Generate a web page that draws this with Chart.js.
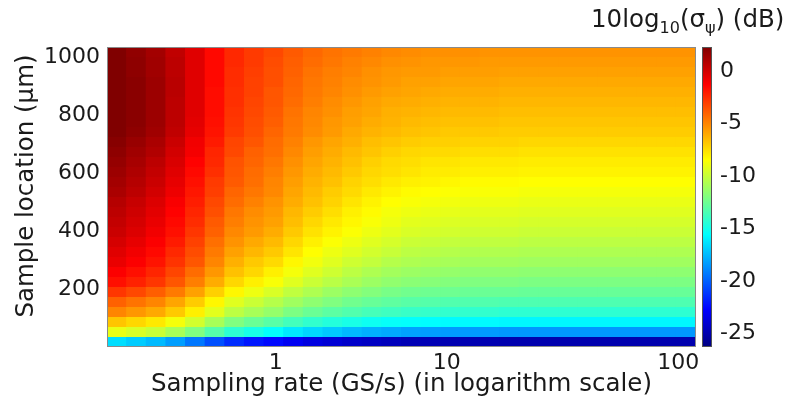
<!DOCTYPE html>
<html>
<head>
<meta charset="utf-8">
<script src="https://cdn.jsdelivr.net/npm/chart.js@4.4.1/dist/chart.umd.min.js"></script>
<style>
  html, body { margin: 0; padding: 0; background: #fff; }
  #wrap { position: relative; width: 789px; height: 415px; }
  #main { position: absolute; left: 0; top: 0; width: 789px; height: 415px; }
  #bar { position: absolute; left: 690px; top: 0; width: 99px; height: 415px; }
</style>
</head>
<body>
<div id="wrap">
  <div id="main"><canvas id="heat"></canvas></div>
  <div id="bar"><canvas id="cbar"></canvas></div>
</div>
<script>
// column positions (one cell per sampling rate, left to right)
const columns = [0.5, 1.5, 2.5, 3.5, 4.5, 5.5, 6.5, 7.5, 8.5, 9.5,
  10.5, 11.5, 12.5, 13.5, 14.5, 15.5, 16.5, 17.5, 18.5, 19.5,
  20.5, 21.5, 22.5, 23.5, 24.5, 25.5, 26.5, 27.5, 28.5, 29.5];

// sample locations in µm (row centres), top row first
const locations = [1017.75, 983.25, 948.75, 914.25, 879.75, 845.25, 810.75, 776.25, 741.75, 707.25,
  672.75, 638.25, 603.75, 569.25, 534.75, 500.25, 465.75, 431.25, 396.75, 362.25,
  327.75, 293.25, 258.75, 224.25, 189.75, 155.25, 120.75, 86.25, 51.75, 17.25];
const rowHalf = 17.25;

// 10log10(sigma_psi) in dB, one row per location (top first), one value per column
const sigmaDb = [
  [2.3, 1.8, 1.3, 0.5, -0.4, -1.5, -2.4, -2.9, -3.3, -3.8, -4.2, -4.5, -4.7, -4.9, -5.1, -5.2, -5.3, -5.3, -5.3, -5.4, -5.4, -5.4, -5.4, -5.4, -5.4, -5.4, -5.4, -5.4, -5.4, -5.4],
  [2.4, 1.9, 1.4, 0.6, -0.4, -1.5, -2.4, -2.9, -3.4, -3.9, -4.3, -4.6, -4.9, -5.1, -5.3, -5.4, -5.5, -5.5, -5.5, -5.6, -5.6, -5.6, -5.6, -5.6, -5.6, -5.6, -5.6, -5.6, -5.6, -5.6],
  [2.4, 1.9, 1.4, 0.6, -0.4, -1.5, -2.5, -3.0, -3.5, -4.0, -4.5, -4.8, -5.0, -5.3, -5.5, -5.6, -5.6, -5.7, -5.7, -5.7, -5.8, -5.8, -5.8, -5.8, -5.8, -5.8, -5.8, -5.8, -5.8, -5.8],
  [2.5, 2.0, 1.5, 0.7, -0.4, -1.5, -2.5, -3.1, -3.5, -4.1, -4.6, -4.9, -5.2, -5.4, -5.6, -5.8, -5.8, -5.9, -5.9, -5.9, -6.0, -6.0, -6.0, -6.0, -6.0, -6.0, -6.0, -6.0, -6.0, -6.0],
  [2.5, 2.0, 1.5, 0.7, -0.4, -1.6, -2.6, -3.1, -3.7, -4.2, -4.7, -5.0, -5.3, -5.6, -5.8, -5.9, -6.0, -6.1, -6.1, -6.1, -6.2, -6.2, -6.2, -6.2, -6.2, -6.2, -6.2, -6.2, -6.2, -6.2],
  [2.5, 2.0, 1.5, 0.6, -0.4, -1.6, -2.6, -3.2, -3.7, -4.3, -4.8, -5.2, -5.5, -5.8, -6.0, -6.1, -6.2, -6.3, -6.3, -6.3, -6.4, -6.4, -6.4, -6.4, -6.4, -6.4, -6.4, -6.4, -6.4, -6.4],
  [2.5, 2.0, 1.5, 0.6, -0.4, -1.6, -2.7, -3.3, -3.8, -4.5, -5.0, -5.3, -5.7, -5.9, -6.2, -6.3, -6.4, -6.5, -6.5, -6.5, -6.6, -6.6, -6.6, -6.6, -6.6, -6.6, -6.6, -6.6, -6.6, -6.6],
  [2.5, 2.0, 1.5, 0.6, -0.5, -1.7, -2.8, -3.4, -3.9, -4.6, -5.1, -5.5, -5.8, -6.1, -6.3, -6.5, -6.6, -6.7, -6.7, -6.7, -6.8, -6.8, -6.8, -6.8, -6.8, -6.8, -6.8, -6.8, -6.8, -6.8],
  [2.4, 1.9, 1.4, 0.5, -0.6, -1.8, -2.9, -3.5, -4.1, -4.7, -5.2, -5.6, -6.0, -6.3, -6.5, -6.7, -6.8, -6.9, -6.9, -6.9, -7.0, -7.0, -7.0, -7.0, -7.0, -7.0, -7.0, -7.0, -7.0, -7.0],
  [2.1, 1.6, 1.1, 0.2, -0.9, -2.0, -3.2, -3.7, -4.3, -4.9, -5.5, -5.9, -6.2, -6.6, -6.8, -7.0, -7.1, -7.1, -7.2, -7.2, -7.2, -7.3, -7.3, -7.3, -7.3, -7.3, -7.3, -7.3, -7.3, -7.3],
  [1.9, 1.4, 0.9, 0.0, -1.0, -2.3, -3.3, -4.0, -4.4, -5.1, -5.7, -6.1, -6.5, -6.8, -7.1, -7.3, -7.4, -7.4, -7.5, -7.5, -7.5, -7.6, -7.6, -7.6, -7.6, -7.6, -7.6, -7.6, -7.6, -7.6],
  [1.7, 1.2, 0.6, -0.2, -1.3, -2.4, -3.6, -4.1, -4.6, -5.3, -5.9, -6.3, -6.7, -7.1, -7.4, -7.5, -7.7, -7.7, -7.8, -7.8, -7.8, -7.9, -7.9, -7.9, -7.9, -7.9, -7.9, -7.9, -7.9, -7.9],
  [1.5, 1.0, 0.4, -0.4, -1.5, -2.6, -3.7, -4.3, -4.8, -5.5, -6.1, -6.5, -6.9, -7.3, -7.5, -7.7, -7.9, -7.9, -8.0, -8.0, -8.0, -8.1, -8.1, -8.1, -8.1, -8.1, -8.1, -8.1, -8.1, -8.1],
  [1.3, 0.8, 0.2, -0.6, -1.7, -2.9, -3.8, -4.4, -5.0, -5.7, -6.3, -6.7, -7.2, -7.5, -7.8, -8.0, -8.1, -8.2, -8.3, -8.3, -8.3, -8.4, -8.4, -8.4, -8.4, -8.4, -8.4, -8.4, -8.4, -8.4],
  [1.1, 0.6, 0.0, -0.8, -1.9, -3.0, -4.1, -4.6, -5.1, -5.9, -6.5, -7.0, -7.4, -7.8, -8.1, -8.3, -8.4, -8.5, -8.6, -8.6, -8.6, -8.7, -8.7, -8.7, -8.7, -8.7, -8.7, -8.7, -8.7, -8.7],
  [0.8, 0.3, -0.3, -1.1, -2.1, -3.3, -4.3, -4.9, -5.4, -6.1, -6.7, -7.2, -7.7, -8.1, -8.4, -8.6, -8.7, -8.8, -8.9, -8.9, -8.9, -9.0, -9.0, -9.0, -9.0, -9.0, -9.0, -9.0, -9.0, -9.0],
  [0.6, 0.1, -0.5, -1.3, -2.3, -3.5, -4.6, -5.2, -5.6, -6.4, -7.0, -7.5, -8.0, -8.3, -8.7, -8.9, -9.0, -9.1, -9.2, -9.2, -9.2, -9.3, -9.3, -9.3, -9.3, -9.3, -9.3, -9.3, -9.3, -9.3],
  [0.4, -0.1, -0.7, -1.5, -2.5, -3.8, -4.8, -5.4, -5.8, -6.6, -7.3, -7.8, -8.2, -8.6, -8.9, -9.2, -9.3, -9.4, -9.5, -9.5, -9.5, -9.6, -9.6, -9.6, -9.6, -9.6, -9.6, -9.6, -9.6, -9.6],
  [0.2, -0.3, -0.9, -1.7, -2.8, -4.0, -5.1, -5.6, -6.1, -6.9, -7.6, -8.1, -8.5, -8.9, -9.2, -9.5, -9.6, -9.7, -9.8, -9.8, -9.8, -9.9, -9.9, -9.9, -9.9, -9.9, -9.9, -9.9, -9.9, -9.9],
  [-0.1, -0.6, -1.2, -2.0, -3.1, -4.4, -5.4, -6.0, -6.5, -7.3, -8.0, -8.5, -8.9, -9.3, -9.6, -9.9, -10.0, -10.1, -10.2, -10.2, -10.2, -10.3, -10.3, -10.3, -10.3, -10.3, -10.3, -10.3, -10.3, -10.3],
  [-0.4, -0.9, -1.5, -2.4, -3.4, -4.7, -5.8, -6.4, -6.9, -7.7, -8.4, -8.9, -9.3, -9.7, -10.0, -10.3, -10.4, -10.5, -10.6, -10.6, -10.6, -10.7, -10.7, -10.7, -10.7, -10.7, -10.7, -10.7, -10.7, -10.7],
  [-0.7, -1.2, -1.8, -2.7, -3.7, -5.0, -6.2, -6.9, -7.4, -8.2, -8.8, -9.3, -9.8, -10.1, -10.5, -10.7, -10.8, -10.9, -11.0, -11.0, -11.0, -11.1, -11.1, -11.1, -11.1, -11.1, -11.1, -11.1, -11.1, -11.1],
  [-1.2, -1.7, -2.3, -3.2, -4.3, -5.5, -6.7, -7.3, -8.0, -8.7, -9.3, -9.8, -10.3, -10.7, -11.0, -11.2, -11.3, -11.4, -11.5, -11.5, -11.5, -11.6, -11.6, -11.6, -11.6, -11.6, -11.6, -11.6, -11.6, -11.6],
  [-1.7, -2.2, -2.8, -3.7, -4.8, -6.1, -7.3, -8.0, -8.6, -9.3, -9.9, -10.4, -10.8, -11.2, -11.5, -11.7, -11.8, -11.9, -12.0, -12.0, -12.0, -12.1, -12.1, -12.1, -12.1, -12.1, -12.1, -12.1, -12.1, -12.1],
  [-2.8, -3.3, -3.9, -4.7, -5.8, -7.1, -8.2, -8.9, -9.5, -10.2, -10.7, -11.2, -11.6, -11.9, -12.2, -12.4, -12.5, -12.5, -12.6, -12.6, -12.6, -12.7, -12.7, -12.7, -12.7, -12.7, -12.7, -12.7, -12.7, -12.7],
  [-4.0, -4.5, -5.0, -5.9, -7.0, -8.2, -9.3, -9.9, -10.5, -11.1, -11.6, -12.0, -12.4, -12.7, -12.9, -13.1, -13.2, -13.3, -13.3, -13.3, -13.4, -13.4, -13.4, -13.4, -13.4, -13.4, -13.4, -13.4, -13.4, -13.4],
  [-5.0, -5.5, -6.0, -6.9, -8.0, -9.2, -10.3, -10.9, -11.4, -12.1, -12.6, -13.0, -13.3, -13.6, -13.8, -14.0, -14.1, -14.2, -14.2, -14.2, -14.3, -14.3, -14.3, -14.3, -14.3, -14.3, -14.3, -14.3, -14.3, -14.3],
  [-6.8, -7.3, -7.8, -8.7, -9.7, -10.9, -12.0, -12.6, -13.1, -13.7, -14.2, -14.6, -14.9, -15.2, -15.4, -15.5, -15.6, -15.7, -15.7, -15.7, -15.8, -15.8, -15.8, -15.8, -15.8, -15.8, -15.8, -15.8, -15.8, -15.8],
  [-9.0, -9.5, -10.0, -10.9, -12.0, -13.2, -14.3, -14.9, -15.5, -16.2, -16.7, -17.1, -17.5, -17.8, -18.0, -18.2, -18.3, -18.4, -18.4, -18.4, -18.5, -18.5, -18.5, -18.5, -18.5, -18.5, -18.5, -18.5, -18.5, -18.5],
  [-16.5, -17.0, -17.5, -18.3, -19.4, -20.5, -21.5, -22.1, -22.5, -23.1, -23.6, -23.9, -24.2, -24.4, -24.6, -24.8, -24.8, -24.9, -24.9, -24.9, -25.0, -25.0, -25.0, -25.0, -25.0, -25.0, -25.0, -25.0, -25.0, -25.0]
];

// axis ticks
const xTickPos = [8.6, 17.3, 29.1];
const xTickLabels = ['1', '10', '100'];
const yTicks = [200, 400, 600, 800, 1000];
const cbTicks = [-25, -20, -15, -10, -5, 0];
const cMin = -26.3;
const cMax = 2.3;

const FONT = 'DejaVu Sans';
const INK = '#1a1a1a';

// matlab jet colormap
function jetAt(t) {
  t = Math.min(1, Math.max(0, t));
  const ch = (c) => Math.round(255 * Math.min(1, Math.max(0, 1.5 - Math.abs(4 * t - c))));
  return `rgb(${ch(3)},${ch(2)},${ch(1)})`;
}
const jet = (v) => jetAt((v - cMin) / (cMax - cMin));

const datasets = sigmaDb.map((row, r) => ({
  data: row.map((v, j) => ({
    x: columns[j],
    y: [locations[r] - rowHalf, locations[r] + rowHalf],
  })),
  backgroundColor: row.map(jet),
  borderWidth: 0,
  grouped: false,
  barPercentage: 1.05,
  categoryPercentage: 1,
}));

const frameAndTitle = {
  id: 'frameAndTitle',
  afterDraw(chart) {
    const { ctx, chartArea: a } = chart;
    ctx.save();
    ctx.strokeStyle = '#8a8a8a';
    ctx.lineWidth = 1;
    ctx.strokeRect(a.left + 0.5, a.top + 0.5, a.width - 1, a.height - 1);

    ctx.fillStyle = INK;

    // y axis title
    ctx.save();
    ctx.translate(27, 186);
    ctx.rotate(-Math.PI / 2);
    ctx.textAlign = 'center';
    ctx.textBaseline = 'middle';
    ctx.font = `24.5px "${FONT}"`;
    ctx.fillText('Sample location (μm)', 0, 0);
    ctx.restore();

    // colour bar caption: 10log10(sigma_psi) (dB)
    ctx.textBaseline = 'alphabetic';
    ctx.textAlign = 'left';
    const big = `24.5px "${FONT}"`;
    const small = `16px "${FONT}"`;
    let x = 591;
    const y = 27;
    const parts = [
      ['10log', big, 0], ['10', small, 6], ['(σ', big, 0], ['ψ', small, 6], [') (dB)', big, 0],
    ];
    parts.forEach(([txt, font, dy]) => {
      ctx.font = font;
      ctx.fillText(txt, x, y + dy);
      x += ctx.measureText(txt).width;
    });
    ctx.restore();
  },
};

new Chart(document.getElementById('heat'), {
  type: 'bar',
  data: { datasets },
  options: {
    responsive: true,
    maintainAspectRatio: false,
    animation: false,
    layout: { padding: { left: 0, top: 47, right: 93, bottom: 0 } },
    plugins: { legend: { display: false }, tooltip: { enabled: false } },
    scales: {
      x: {
        type: 'linear',
        min: 0,
        max: 30,
        offset: false,
        grid: { display: false, drawTicks: false },
        border: { display: false },
        afterBuildTicks: (s) => { s.ticks = xTickPos.map((v) => ({ value: v })); },
        afterFit: (s) => { s.height = 68; },
        ticks: {
          autoSkip: false,
          maxRotation: 0,
          padding: 3,
          color: INK,
          font: { family: FONT, size: 22 },
          callback: (v, i) => xTickLabels[i],
        },
        title: {
          display: true,
          text: 'Sampling rate (GS/s) (in logarithm scale)',
          color: INK,
          font: { family: FONT, size: 24.5 },
          padding: { top: 0, bottom: 16 },
        },
      },
      y: {
        type: 'linear',
        min: 0,
        max: 1035,
        grid: { display: false, drawTicks: false },
        border: { display: false },
        afterBuildTicks: (s) => { s.ticks = yTicks.map((v) => ({ value: v })); },
        afterFit: (s) => { s.width = 107; },
        ticks: {
          padding: 7,
          color: INK,
          font: { family: FONT, size: 22 },
          callback: (v) => String(v),
        },
      },
    },
  },
  plugins: [frameAndTitle],
});

// colour bar
const jetStops = [0, 0.125, 0.375, 0.625, 0.875, 1];
const barFrame = {
  id: 'barFrame',
  afterDraw(chart) {
    const { ctx, chartArea: a } = chart;
    ctx.save();
    ctx.strokeStyle = '#555';
    ctx.lineWidth = 1;
    ctx.strokeRect(a.left + 0.5, a.top + 0.5, a.width - 1, a.height - 1);
    ctx.restore();
  },
};

new Chart(document.getElementById('cbar'), {
  type: 'bar',
  data: {
    labels: ['dB'],
    datasets: [{
      data: [[cMin, cMax]],
      backgroundColor: (c) => {
        const { chart } = c;
        if (!chart.chartArea) return null;
        const ys = chart.scales.y;
        const g = chart.ctx.createLinearGradient(0, ys.getPixelForValue(cMin), 0, ys.getPixelForValue(cMax));
        jetStops.forEach((s) => g.addColorStop(s, jetAt(s)));
        return g;
      },
      borderWidth: 0,
      barPercentage: 1,
      categoryPercentage: 1,
    }],
  },
  options: {
    responsive: true,
    maintainAspectRatio: false,
    animation: false,
    layout: { padding: { left: 12, top: 47, right: 0, bottom: 68 } },
    plugins: { legend: { display: false }, tooltip: { enabled: false } },
    scales: {
      x: { display: false },
      y: {
        position: 'right',
        min: cMin,
        max: cMax,
        grid: { display: false, drawTicks: false },
        border: { display: false },
        afterBuildTicks: (s) => { s.ticks = cbTicks.map((v) => ({ value: v })); },
        afterFit: (s) => { s.width = 77; },
        ticks: {
          padding: 8,
          color: INK,
          font: { family: FONT, size: 22 },
          callback: (v) => String(v),
        },
      },
    },
  },
  plugins: [barFrame],
});
</script>
</body>
</html>
